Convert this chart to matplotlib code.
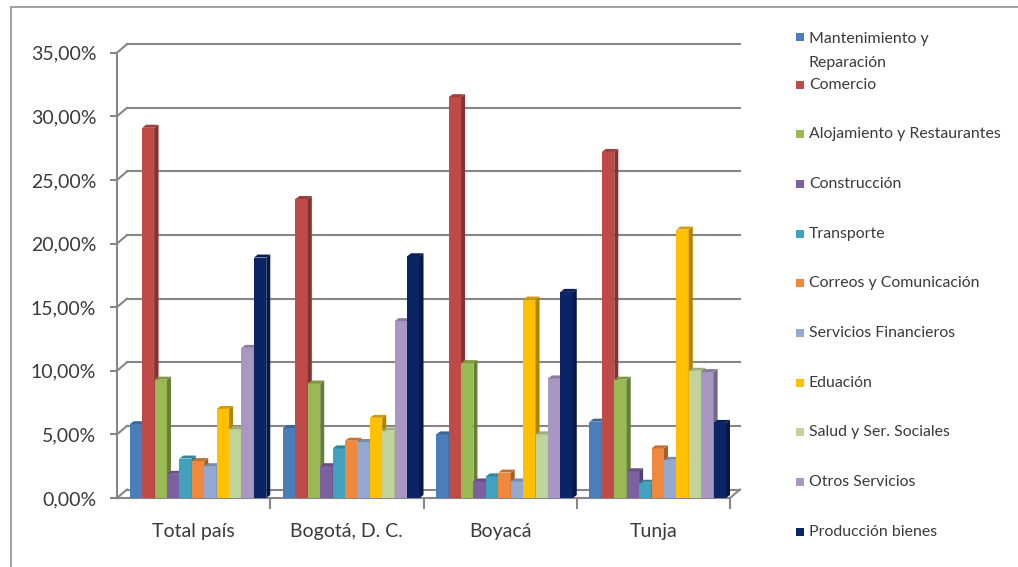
import numpy as np
import matplotlib
matplotlib.use("Agg")
import matplotlib.pyplot as plt
from matplotlib.patches import Polygon, Rectangle
from matplotlib.lines import Line2D
from matplotlib.ticker import FuncFormatter, MultipleLocator

plt.rcParams['font.family'] = ['Lato', 'DejaVu Sans']

# === DATA ===
regions = ["Total país", "Bogotá, D. C.", "Boyacá", "Tunja"]
sectors = ["Mantenimiento y\nReparación", "Comercio", "Alojamiento y Restaurantes",
           "Construcción", "Transporte", "Correos y Comunicación",
           "Servicios Financieros", "Eduación", "Salud y Ser. Sociales",
           "Otros Servicios", "Producción bienes"]
# percent share per sector, one list per region
total_pais = [5.8, 29.1, 9.3, 1.9, 3.1, 2.9, 2.5, 7.0, 5.4, 11.8, 18.9]
bogota = [5.5, 23.5, 9.0, 2.5, 3.9, 4.5, 4.4, 6.3, 5.3, 13.9, 19.0]
boyaca = [5.0, 31.5, 10.6, 1.3, 1.7, 2.0, 1.3, 15.6, 5.0, 9.4, 16.2]
tunja = [6.0, 27.2, 9.3, 2.1, 1.2, 3.9, 3.0, 21.1, 10.0, 9.9, 5.9]
colors = ["#4A7EBB", "#BE4B48", "#98B954", "#7D60A0", "#40A2BE", "#F0893E",
          "#93A9D1", "#FFC000", "#BFD39A", "#A897C2", "#0B2466"]

values = np.array([total_pais, bogota, boyaca, tunja])

W, H = 1018, 567
fig = plt.figure(figsize=(W / 100, H / 100), dpi=100)
ax = fig.add_axes([117 / W, 1 - 498 / H, 613 / W, (498 - 52.7) / H])
ax.set_xlim(0, 4)
ax.set_ylim(0, 35)

# pixel -> data unit conversion
ppx = 613 / 4.0
ppy = (498 - 52.7) / 35.0
depth_x, depth_y = 10 / ppx, 8.5 / ppy     # back wall offset
side_x, side_y = 4 / ppx, 3 / ppy          # bar side/top face

grid_col = "#868686"
# back wall gridlines + left wall diagonals
for v in range(0, 36, 5):
    ax.plot([depth_x, 4 + depth_x], [v + depth_y, v + depth_y], color=grid_col,
            lw=1.5, clip_on=False, zorder=1)
    ax.plot([0, depth_x], [v, v + depth_y], color=grid_col, lw=1.5,
            clip_on=False, zorder=1)
# floor right edge
ax.plot([4, 4 + depth_x], [0, depth_y], color=grid_col, lw=1.5, clip_on=False, zorder=1)


def shade(c, f):
    r, g, b = matplotlib.colors.to_rgb(c)
    return (r * f, g * f, b * f)


bw = 0.081
x0 = 0.083
for gi in range(len(regions)):
    for si in range(len(sectors)):
        v = values[gi, si]
        xl = gi + x0 + si * bw
        xr = xl + bw
        ax.bar(xl, v, width=bw, align='edge', color=colors[si], zorder=3 + si,
               linewidth=0)
        side = Polygon([(xr, 0), (xr + side_x, side_y), (xr + side_x, v + side_y), (xr, v)],
                       closed=True, facecolor=shade(colors[si], 0.68), lw=0, zorder=3 + si)
        top = Polygon([(xl, v), (xl + side_x, v + side_y), (xr + side_x, v + side_y), (xr, v)],
                      closed=True, facecolor=shade(colors[si], 0.82), lw=0, zorder=3 + si)
        ax.add_patch(side)
        ax.add_patch(top)

for s in ['top', 'right']:
    ax.spines[s].set_visible(False)
for s in ['left', 'bottom']:
    ax.spines[s].set_color(grid_col)
    ax.spines[s].set_linewidth(1.5)

ax.yaxis.set_major_locator(MultipleLocator(5))
ax.yaxis.set_major_formatter(FuncFormatter(lambda v, p: f"{v:.2f}".replace(".", ",") + "%"))
ax.tick_params(axis='y', length=5, width=1.5, color=grid_col, pad=10,
               labelsize=14, labelcolor="#3a3a3a")
ax.set_xticks(np.arange(4) + 0.5)
ax.set_xticklabels(regions)
ax.set_xticks([1, 2, 3, 4], minor=True)
ax.tick_params(axis='x', which='major', length=0, pad=18, labelsize=14, labelcolor="#3a3a3a")
ax.tick_params(axis='x', which='minor', length=8, width=1.5, color=grid_col)

# legend drawn by hand
leg_y = [37, 85, 134, 184, 234, 283, 333, 383, 432, 482, 532]
for si, name in enumerate(sectors):
    y = 1 - leg_y[si] / H
    fig.add_artist(Rectangle((796 / W, y - 4 / H), 8 / W, 8 / H, transform=fig.transFigure,
                             facecolor=colors[si], edgecolor='none'))
    if si == 0:
        fig.text(809 / W, y + 5 / H, name, fontsize=11.4, color="#3a3a3a", va='top',
                 ha='left', linespacing=1.95)
    else:
        fig.text(809 / W, y, name, fontsize=11.4, color="#3a3a3a", va='center', ha='left')

# outer frame (left and top edges)
fig.add_artist(Line2D([11 / W, 11 / W], [0, 1 - 7 / H], transform=fig.transFigure,
                      color="#9a9a9a", lw=1.3))
fig.add_artist(Line2D([11 / W, 1], [1 - 7 / H, 1 - 7 / H], transform=fig.transFigure,
                      color="#9a9a9a", lw=1.3))

fig.savefig("out.png", dpi=100)
